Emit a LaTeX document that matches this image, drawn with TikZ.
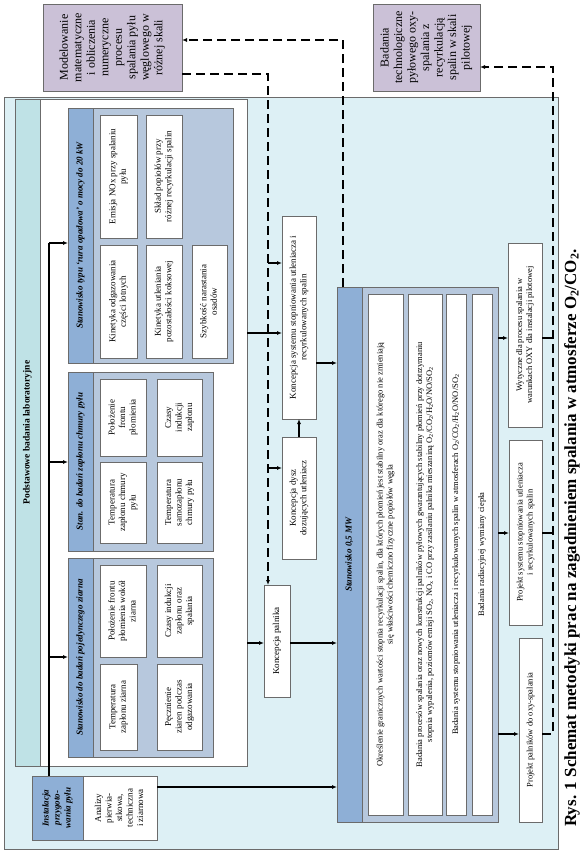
\documentclass[tikz,border=0pt]{standalone}
\usepackage{fontspec}
\setmainfont{Liberation Serif}
\usepackage{graphicx}
\usetikzlibrary{arrows.meta}

\definecolor{outerbg}{HTML}{DDF0F5}
\definecolor{labhead}{HTML}{BFE2E6}
\definecolor{stanhead}{HTML}{8EAFD6}
\definecolor{stanbody}{HTML}{B7C8DD}
\definecolor{topbox}{HTML}{CBC1D7}
\definecolor{edge}{HTML}{6B6B6B}

% rotated, centred text block
\newcommand{\vt}[1]{\rotatebox{90}{\begin{tabular}{@{}c@{}}#1\end{tabular}}}

\begin{document}
\begin{tikzpicture}[x=1pt,y=-1pt,
  every node/.style={inner sep=0pt,outer sep=0pt,font=\fontsize{9}{10.5}\selectfont},
  cbox/.style={draw=edge,fill=white,line width=0.8pt},
  mbox/.style={cbox,font=\fontsize{8.5}{10}\selectfont},
  hbox/.style={draw=edge,fill=stanhead,line width=0.8pt,font=\fontsize{9}{11}\selectfont\bfseries\itshape},
  bbox/.style={draw=edge,fill=stanbody,line width=0.8pt},
  tbox/.style={draw=edge,fill=topbox,line width=0.8pt,font=\fontsize{12}{13.5}\selectfont},
  link/.style={line width=1.2pt},
  arr/.style={link,-{Latex[length=5pt,width=4pt]}},
  dsh/.style={dash pattern=on 9pt off 5pt,line width=1.4pt},
  ]
\useasboundingbox (0,0) rectangle (582,854);

% outer region
\node[draw=edge,fill=outerbg,line width=0.8pt,minimum width=554,minimum height=752] (outer) at (281,473) {};

% top boxes
\node[tbox,minimum width=139,minimum height=87] (model) at (112.5,47.5)
  {\vt{Modelowanie\\matematyczne\\i obliczenia\\numeryczne\\procesu\\spalania pyłu\\węglowego w\\różnej skali}};
\node[tbox,minimum width=107,minimum height=87] (badtech) at (426.5,47.5)
  {\vt{Badania\\technologiczne\\pyłowego oxy-\\spalania z\\recyrkulacją\\spalin w skali\\pilotowej}};

% podstawowe badania
\node[cbox,minimum width=232,minimum height=667] (lab) at (131,432.5) {};
\node[draw=edge,fill=labhead,line width=0.8pt,minimum width=25,minimum height=667,
  font=\fontsize{9.5}{11}\selectfont\bfseries] (labhd) at (27.5,432.5)
  {\vt{Podstawowe badania laboratoryjne}};

% rura opadowa 20 kW
\node[bbox,minimum width=165,minimum height=255] (rura) at (150.5,235.5) {};
\node[hbox,minimum width=25,minimum height=255] (rurahd) at (80.5,235.5)
  {\vt{Stanowisko typu `rura opadowa' o mocy do 20 kW}};
\node[cbox,minimum width=37,minimum height=123] (emisja) at (118.5,176.5) {\vt{Emisja NOx przy spalaniu\\pyłu}};
\node[cbox,minimum width=36,minimum height=123] (sklad) at (164,176.5) {\vt{Skład popiołów przy\\różnej recyrkulacji spalin}};
\node[cbox,minimum width=37,minimum height=113] (kinod) at (118.5,301.5) {\vt{Kinetyka odgazowania\\części lotnych}};
\node[cbox,minimum width=36,minimum height=113] (kinutl) at (164,301.5) {\vt{Kinetyka utleniania\\pozostałości koksowej}};
\node[cbox,minimum width=35,minimum height=113] (szybk) at (209.5,301.5) {\vt{Szybkość narastania\\osadów}};

% zaplon chmury pylu
\node[bbox,minimum width=145,minimum height=179] (chm) at (140.5,461.5) {};
\node[hbox,minimum width=25,minimum height=179] (chmhd) at (80.5,461.5)
  {\vt{Stan. do badań zapłonu chmury pyłu}};
\node[cbox,minimum width=46,minimum height=77] (polchm) at (123,417.5) {\vt{Położenie\\frontu\\płomienia}};
\node[cbox,minimum width=45,minimum height=77] (czchm) at (179.5,417.5) {\vt{Czasy\\indukcji\\zapłonu}};
\node[cbox,minimum width=46,minimum height=81] (tchm) at (123,502.5) {\vt{Temperatura\\zapłonu chmury\\pyłu}};
\node[cbox,minimum width=45,minimum height=81] (samchm) at (179.5,502.5) {\vt{Temperatura\\samozapłonu\\chmury pyłu}};

% pojedyncze ziarno
\node[bbox,minimum width=145,minimum height=199] (zi) at (140.5,657.5) {};
\node[hbox,minimum width=25,minimum height=199] (zihd) at (80.5,657.5)
  {\vt{Stanowisko do badań pojedynczego ziarna}};
\node[cbox,minimum width=46,minimum height=92] (polz) at (123,611) {\vt{Położenie frontu\\płomienia wokół\\ziarna}};
\node[cbox,minimum width=45,minimum height=92] (czz) at (179.5,611) {\vt{Czasy indukcji\\zapłonu oraz\\spalania}};
\node[cbox,minimum width=37,minimum height=86] (tz) at (118.5,707) {\vt{Temperatura\\zapłonu ziarna}};
\node[cbox,minimum width=45,minimum height=86] (pecz) at (179.5,707) {\vt{Pęcznienie\\ziaren podczas\\odgazowania}};

% instalacja przygotowania pylu
\node[hbox,minimum width=51,minimum height=64] (insthd) at (57.5,808) {\vt{Instalacja\\przygoto-\\wania pyłu}};
\node[cbox,minimum width=74,minimum height=64] (instc) at (120,808) {\vt{Analizy\\pierwia-\\stkowa,\\techniczna\\i ziarnowa}};

% koncepcje
\node[cbox,minimum width=34,minimum height=203] (ksys) at (299,317.5)
  {\vt{Koncepcja systemu stopniowania utleniacza i\\recyrkulowanych spalin}};
\node[cbox,minimum width=34,minimum height=122] (kdysz) at (299,498) {\vt{Koncepcja dysz\\dozujących utleniacz}};
\node[cbox,minimum width=26,minimum height=112] (kpal) at (277,641) {\vt{Koncepcja palnika}};

% stanowisko 0,5 MW
\node[bbox,minimum width=161,minimum height=535] (mw) at (417.5,554.5) {};
\node[hbox,minimum width=25,minimum height=535] (mwhd) at (349.5,554.5) {\vt{Stanowisko 0,5 MW}};
\node[mbox,minimum width=35,minimum height=521] (okr) at (385.5,554.5)
  {\vt{Określenie granicznych wartości stopnia recyrkulacji spalin, dla których płomień jest stabilny oraz dla którego nie zmieniają\\się właściwości chemiczno fizyczne popiołów węgla}};
\node[mbox,minimum width=34,minimum height=521] (bproc) at (425,554.5)
  {\vt{Badania procesów spalania oraz nowych konstrukcji palników pyłowych gwarantujących stabilny płomień przy dotrzymaniu\\stopnia wypalenia, poziomów emisji SO\textsubscript{2}, NO\textsubscript{x} i CO przy zasilaniu palnika mieszaniną O\textsubscript{2}/CO\textsubscript{2}/H\textsubscript{2}O/NO/SO\textsubscript{2}}};
\node[mbox,minimum width=20,minimum height=521] (bsys) at (456,554.5)
  {\vt{Badania systemu stopniowania utleniacza i recyrkulowanych spalin w atmosferach O\textsubscript{2}/CO\textsubscript{2}/H\textsubscript{2}O/NO/SO\textsubscript{2}}};
\node[mbox,minimum width=20,minimum height=521] (brad) at (482,554.5) {\vt{Badania radiacyjnej wymiany ciepła}};

% wyniki
\node[mbox,minimum width=34,minimum height=184] (wyt) at (525,335)
  {\vt{Wytyczne dla procesu spalania w\\warunkach OXY dla instalacji pilotowej}};
\node[mbox,minimum width=33,minimum height=185] (psys) at (525.5,532.5)
  {\vt{Projekt systemu stopniowania utleniacza\\i recyrkulowanych spalin}};
\node[mbox,minimum width=23,minimum height=184] (ppal) at (530.5,730) {\vt{Projekt palników do oxy-spalania}};

% caption
\node[font=\fontsize{17}{19}\selectfont\bfseries] (caption) at (572,538)
  {\rotatebox{90}{Rys. 1 Schemat metodyki prac na zagadnieniem spalania w atmosferze O\textsubscript{2}/CO\textsubscript{2}.}};

% levels used by the connectors
\coordinate (x49) at (49,0);
\coordinate (x268) at (268,0);
\coordinate (x343) at (343,0);
\coordinate (x553) at (553,0);
\foreach \yy in {40,67,74,243,263,333,338,363,462,468,533,643,657,734,787}
  \coordinate (y\yy) at (0,\yy);

% solid connectors
\draw[link] (insthd.north -| x49) -- (x49 |- y243);
\draw[arr] (x49 |- y243) -- (rurahd.west |- y243);
\draw[arr] (x49 |- y462) -- (chmhd.west |- y462);
\draw[arr] (x49 |- y657) -- (zihd.west |- y657);
\draw[arr] (instc.east |- y787) -- (mwhd.west |- y787);
\draw[arr] (lab.east |- y333) -- (ksys.west |- y333);
\draw[arr] (lab.east |- y643) -- (kpal.west |- y643);
\draw[arr] (kpal.east |- y643) -- (mwhd.west |- y643);
\draw[arr] (ksys.east |- y363) -- (mwhd.west |- y363);
\draw[arr] (kdysz.north) -- (ksys.south);
\draw[arr] (mw.east |- y338) -- (wyt.west |- y338);
\draw[arr] (mw.east |- y533) -- (psys.west |- y533);
\draw[arr] (mw.east |- y734) -- (ppal.west |- y734);

% dashed feedback
\draw[dsh,-{Latex[length=5pt,width=4pt]}] (model.east |- y74) -| (kpal.north -| x268);
\draw[arr] (x268 |- y263) -- (ksys.west |- y263);
\draw[arr] (x268 |- y468) -- (kdysz.west |- y468);
\draw[dsh,-{Latex[length=5pt,width=4pt]}] (mwhd.north -| x343) |- (model.east |- y40);
\draw[dsh,-{Latex[length=5pt,width=4pt]}] (ppal.east |- y734) -| (x553 |- y67) -- (badtech.east |- y67);
\draw[link] (wyt.east |- y338) -- (x553 |- y338);
\draw[link] (psys.east |- y533) -- (x553 |- y533);
\end{tikzpicture}
\end{document}
